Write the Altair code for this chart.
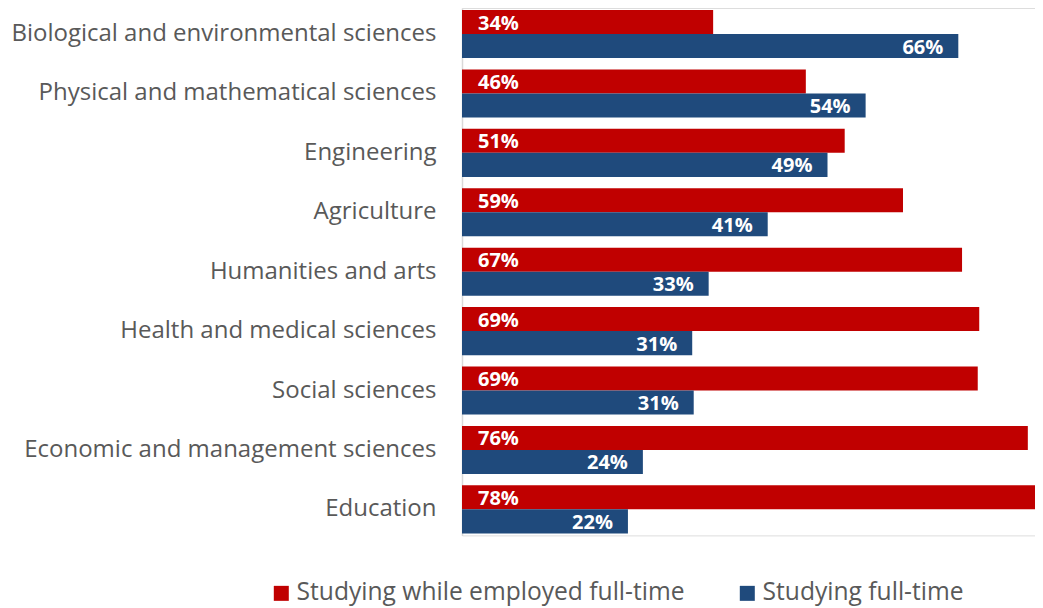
import altair as alt
import pandas as pd

categories = [
    "Biological and environmental sciences",
    "Physical and mathematical sciences",
    "Engineering\u00a0",
    "Agriculture",
    "Humanities and arts",
    "Health and medical sciences",
    "Social sciences",
    "Economic and management sciences",
    "Education",
]
series_names = ["Studying while employed full-time", "Studying full-time"]
employed = [33.6, 46.0, 51.2, 59.0, 66.9, 69.2, 69.0, 75.7, 77.8]
fulltime = [66.4, 54.0, 48.9, 40.9, 33.0, 30.8, 31.0, 24.2, 22.2]
colors = ["#C00000", "#1F4A7C"]

rows = []
for c, e, f in zip(categories, employed, fulltime):
    rows.append({"category": c, "series": series_names[0], "value": e, "label": f"{round(e)}%"})
    rows.append({"category": c, "series": series_names[1], "value": f, "label": f"{round(f)}%"})
df = pd.DataFrame(rows)

FONT = "Open Sans"

y_enc = alt.Y(
    "category:N",
    sort=categories,
    scale=alt.Scale(paddingInner=0.1916, paddingOuter=0.034),
    axis=alt.Axis(
        title=None, ticks=False, domain=True, domainColor="#D9D9D9", domainWidth=1.5,
        labelFontSize=24, labelColor="#595959", labelPadding=26, labelFont=FONT,
        labelLimit=0,
    ),
)
yoff = alt.YOffset("series:N", sort=series_names, scale=alt.Scale(paddingInner=0, paddingOuter=0))
x_enc = alt.X("value:Q", scale=alt.Scale(domain=[0, 76.66], nice=False, zero=True), axis=None)

base = alt.Chart(df)

bars = base.mark_bar().encode(
    y=y_enc,
    yOffset=yoff,
    x=x_enc,
    color=alt.Color(
        "series:N",
        sort=series_names,
        scale=alt.Scale(domain=series_names, range=colors),
        legend=alt.Legend(
            title=None, orient="none", legendX=-193, legendY=573, direction="horizontal",
            symbolType="square", symbolSize=225, symbolStrokeWidth=0, labelFontSize=24.6,
            labelColor="#595959", labelFont=FONT, labelOffset=3, columnPadding=50,
            labelLimit=0,
        ),
    ),
)

red_labels = base.transform_filter(alt.datum.series == series_names[0]).mark_text(
    align="left", baseline="middle", dx=16, dy=1.5, color="white", fontWeight="bold",
    fontSize=20, font=FONT,
).encode(y=y_enc, yOffset=yoff, x=alt.value(0), text="label:N")

blue_labels = base.transform_filter(alt.datum.series == series_names[1]).mark_text(
    align="right", baseline="middle", dx=-15, dy=1.5, color="white", fontWeight="bold",
    fontSize=20, font=FONT,
).encode(y=y_enc, yOffset=yoff, x=x_enc, text="label:N")

chart = (
    alt.layer(bars, red_labels, blue_labels)
    .properties(
        width=573, height=527.4,
        padding={"left": 454, "top": 0, "right": 0, "bottom": 72.6},
        autosize="none",
    )
    .configure_view(stroke=None)
    .configure(background="white")
)

chart.save("out.html", embed_options={"renderer": "svg", "actions": False})
